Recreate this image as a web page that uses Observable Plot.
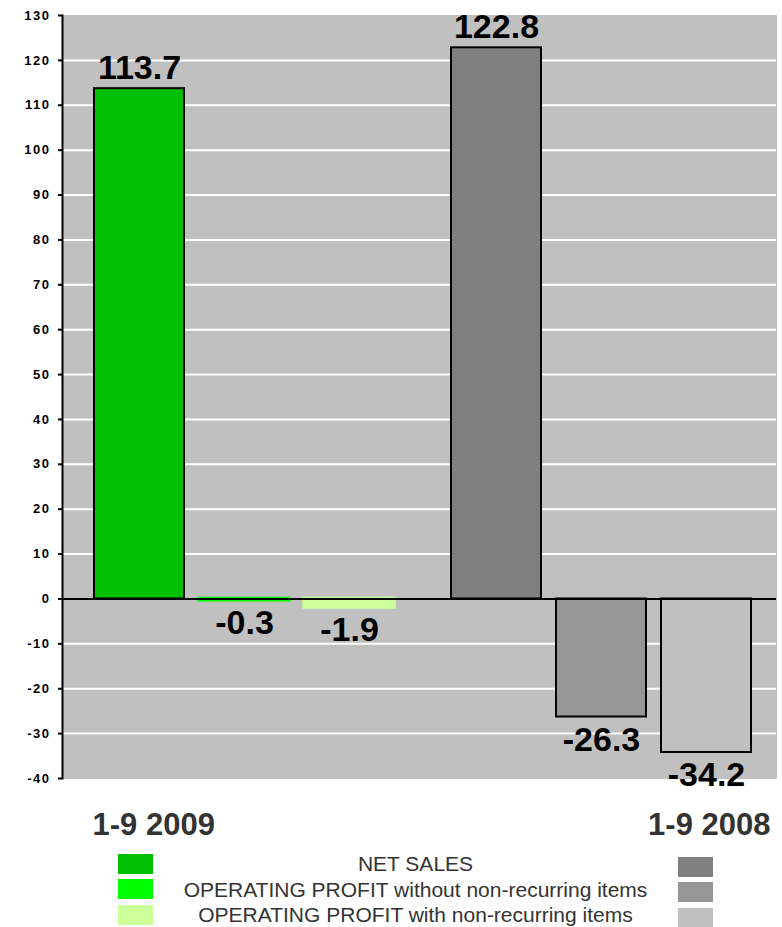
<!DOCTYPE html>
<html>
<head>
<meta charset="utf-8">
<script src="https://cdn.jsdelivr.net/npm/d3@7"></script>
<script src="https://cdn.jsdelivr.net/npm/@observablehq/plot@0.6"></script>
<style>
  body { margin: 0; background: white; font-family: "Liberation Sans", Arial, sans-serif; }
  #wrap { width: 782px; }
  .legend { display: grid; grid-template-columns: 118px 35px 1fr 35px 69px; grid-auto-rows: 25.5px; padding-top: 3px; }
  .legend .sw { width: 35px; height: 20px; align-self: center; }
  .legend .sw.r { position: relative; top: 3px; }
  .legend .lab { text-align: center; font-size: 21px; color: #333; line-height: 25.5px; white-space: nowrap; }
</style>
</head>
<body>
<div id="wrap"></div>
<script>
const periods = ["1-9 2009", "1-9 2008"];
const series = ["NET SALES", "OPERATING PROFIT without non-recurring items", "OPERATING PROFIT with non-recurring items"];
const values2009 = [113.7, -0.3, -1.9];
const values2008 = [122.8, -26.3, -34.2];
const colors2009 = ["#00C000", "#00FF00", "#CCFF99"];
const colors2008 = ["#808080", "#969696", "#C0C0C0"];
const yTicks = [-40, -30, -20, -10, 0, 10, 20, 30, 40, 50, 60, 70, 80, 90, 100, 110, 120, 130];
const gridTicks = [-30, -20, -10, 10, 20, 30, 40, 50, 60, 70, 80, 90, 100, 110, 120];

const valuesByPeriod = [values2009, values2008];
const colorsByPeriod = [colors2009, colors2008];
const data = periods.flatMap((p, i) => series.map((s, j) => ({
  period: p, series: s, value: valuesByPeriod[i][j], key: p + "|" + s
})));
const keys = data.map(d => d.key);
const keyColors = periods.flatMap((p, i) => colorsByPeriod[i]);

const big = d => Math.abs(d.value) >= 5;
const font = "'Liberation Sans', Arial, sans-serif";

const chart = Plot.plot({
  width: 782,
  height: 848,
  marginTop: 15,
  marginLeft: 62,
  marginRight: 6,
  marginBottom: 70,
  style: { fontFamily: font, background: "white", overflow: "visible" },
  fx: { domain: periods, padding: 0, axis: null },
  x: { domain: series, paddingInner: 0.14, paddingOuter: 0.265, align: 0.57, axis: null },
  y: { domain: [-40, 130], axis: null },
  color: { domain: keys, range: keyColors },
  marks: [
    Plot.frame({ fill: "#C0C0C0", stroke: "#C0C0C0", strokeWidth: 1 }),
    Plot.ruleY(gridTicks, { stroke: "white", strokeWidth: 2 }),
    Plot.barY(data.filter(big), { fx: "period", x: "series", y: "value", fill: "key", stroke: "black", strokeWidth: 2 }),
    Plot.barY(data.filter(d => !big(d)), { fx: "period", x: "series", y: "value", fill: "key", stroke: "key", strokeWidth: 3.5 }),
    Plot.ruleY([0], { stroke: "black", strokeWidth: 2 }),
    Plot.frame({ anchor: "left", facetAnchor: "left", stroke: "black", strokeWidth: 2 }),
    Plot.axisY({ ticks: yTicks, label: null, tickSize: 4, tickPadding: 8, tickFormat: d => String(d),
      fontSize: 13, fontWeight: "bold", color: "black", strokeWidth: 2 }),
    Plot.text(data.filter(d => d.value >= 0), { fx: "period", x: "series", y: "value",
      text: d => d.value.toFixed(1), dy: -21, fontSize: 34, fontWeight: "bold", fill: "black" }),
    Plot.text(data.filter(d => d.value < 0), { fx: "period", x: "series", y: "value",
      text: d => d.value.toFixed(1), dy: 23, fontSize: 34, fontWeight: "bold", fill: "black" }),
    Plot.text([periods[0]], { fx: d => d, text: d => d, frameAnchor: "bottom-left", lineAnchor: "middle",
      dx: 30, dy: 47, fontSize: 31, fontWeight: "bold", fill: "#333" }),
    Plot.text([periods[1]], { fx: d => d, text: d => d, frameAnchor: "bottom-right", lineAnchor: "middle",
      dx: -6, dy: 47, fontSize: 31, fontWeight: "bold", fill: "#333" })
  ]
});

const wrap = document.getElementById("wrap");
wrap.appendChild(chart);
chart.querySelectorAll("g[aria-label='y-axis tick label']").forEach(el => el.setAttribute("letter-spacing", "1.5"));

const legend = document.createElement("div");
legend.className = "legend";
series.forEach((s, j) => {
  legend.appendChild(document.createElement("div"));
  const a = document.createElement("div"); a.className = "sw"; a.style.background = colors2009[j]; legend.appendChild(a);
  const t = document.createElement("div"); t.className = "lab"; t.textContent = s; legend.appendChild(t);
  const b = document.createElement("div"); b.className = "sw r"; b.style.background = colors2008[j]; legend.appendChild(b);
  legend.appendChild(document.createElement("div"));
});
wrap.appendChild(legend);
</script>
</body>
</html>
